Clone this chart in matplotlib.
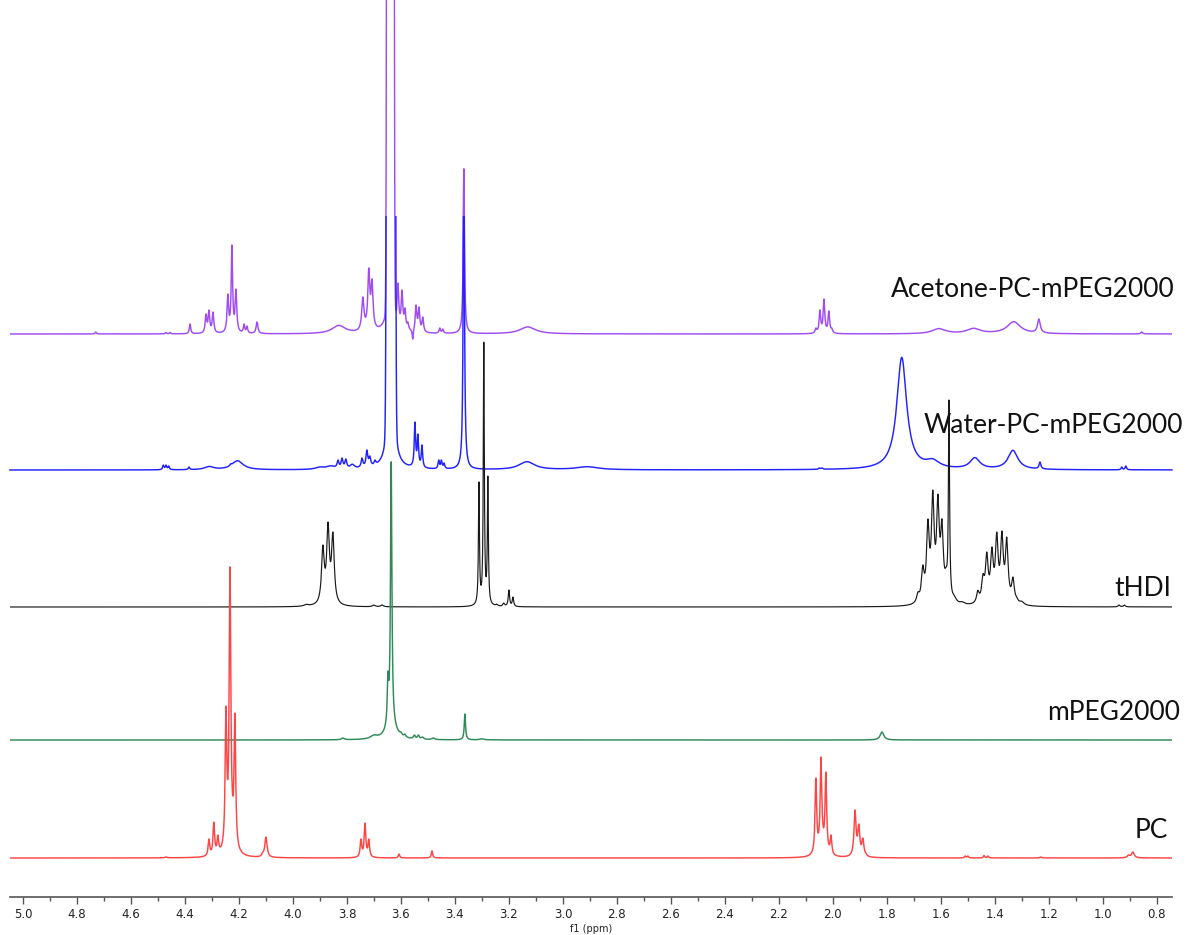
import numpy as np
import matplotlib
matplotlib.use("Agg")
import matplotlib.pyplot as plt
from matplotlib.patches import Rectangle
from matplotlib.ticker import MultipleLocator, FormatStrFormatter

# ---- peak tables ----
# shift (ppm), height above the spectrum's own baseline, half width (ppm)
acetone_shift = [4.73, 4.47, 4.455, 4.381, 4.322, 4.311, 4.296, 4.241, 4.226, 4.211,
                 4.181, 4.170, 4.133, 3.83, 3.81, 3.80, 3.741, 3.719, 3.707, 3.64,
                 3.611, 3.596, 3.585, 3.574, 3.556, 3.544, 3.533, 3.519, 3.456, 3.445,
                 3.367, 3.13, 2.063, 2.048, 2.033, 2.015, 2.004, 1.607, 1.478, 1.33,
                 1.237, 0.856]
acetone_height = [2, 1.5, 1.5, 10, 20, 24, 22, 40, 89, 45,
                  10, 8, 12, 8, 4, 4, 37, 66, 55, 40,
                  51, 44, 26, 12, -5, 29, 27, 17, 6, 5,
                  166, 7, 6, 24, 35, 23, 6, 5, 5, 12,
                  15, 2]
acetone_width = [0.003, 0.003, 0.003, 0.003, 0.0035, 0.0035, 0.0035, 0.0035, 0.003, 0.0035,
                 0.003, 0.003, 0.004, 0.03, 0.004, 0.004, 0.005, 0.0045, 0.0045, 0.015,
                 0.0035, 0.0035, 0.0035, 0.0035, 0.002, 0.0035, 0.0035, 0.0035, 0.003, 0.003,
                 0.0028, 0.035, 0.0035, 0.0035, 0.0035, 0.0035, 0.0035, 0.03, 0.03, 0.03,
                 0.006, 0.004]
acetone_peg = [3.639, 1.0e5, 0.0044]   # saturated PEG band: shift, height, sigma

water_shift = [4.48, 4.47, 4.46, 4.385, 4.31, 4.23, 4.215, 4.205, 3.90, 3.86,
               3.833, 3.818, 3.804, 3.78, 3.744, 3.726, 3.715, 3.696, 3.637, 3.548,
               3.537, 3.522, 3.46, 3.45, 3.44, 3.367, 3.133, 3.115, 2.91, 2.05,
               2.04, 1.745, 1.63, 1.474, 1.333, 1.233, 0.93, 0.915]
water_height = [5, 5, 4, 3, 3, 6, 4, 9, 2, 3,
                10, 12, 11, 4, 12, 20, 14, 10, 120, 48,
                36, 25, 10, 10, 7, 320, 8, 3, 3, 2,
                2, 112, 7, 11, 19, 8, 3, 4]
water_width = [0.003, 0.003, 0.003, 0.003, 0.02, 0.004, 0.004, 0.025, 0.02, 0.02,
               0.004, 0.004, 0.004, 0.01, 0.004, 0.004, 0.004, 0.004, 0.012, 0.003,
               0.003, 0.003, 0.003, 0.003, 0.003, 0.0028, 0.035, 0.005, 0.05, 0.004,
               0.004, 0.022, 0.03, 0.022, 0.022, 0.004, 0.003, 0.003]
water_peg = [3.637, 1.0e5, 0.0052]

thdi_shift = [3.95, 3.889, 3.870, 3.852, 3.70, 3.67, 3.311, 3.293, 3.278, 3.245,
              3.219, 3.200, 3.185, 1.700, 1.685, 1.667, 1.648, 1.630, 1.611, 1.596,
              1.581, 1.570, 1.55, 1.52, 1.470, 1.463, 1.444, 1.430, 1.411, 1.393,
              1.374, 1.356, 1.333, 1.319, 1.30, 0.94, 0.92]
thdi_height = [1.5, 62, 85, 75, 2, 2, 126, 267, 131, 3,
               4, 17, 10, 4, 15, 42, 88, 117, 113, 88,
               40, 207, 4, 2, 5, 15, 33, 55, 60, 75,
               76, 70, 30, 10, 3, 2, 2]
thdi_width = [0.01, 0.006, 0.006, 0.006, 0.006, 0.006, 0.0022, 0.0022, 0.0022, 0.004,
              0.004, 0.003, 0.003, 0.006, 0.006, 0.006, 0.006, 0.006, 0.006, 0.006,
              0.006, 0.0025, 0.01, 0.01, 0.006, 0.006, 0.006, 0.006, 0.006, 0.006,
              0.006, 0.006, 0.006, 0.006, 0.01, 0.004, 0.004]

mpeg_shift = [3.815, 3.70, 3.668, 3.660, 3.648, 3.636, 3.636, 3.60, 3.585, 3.55,
              3.535, 3.52, 3.48, 3.363, 3.30, 1.818]
mpeg_height = [2, 3, 6, 8, 68, 278, 15, 8, 6, 5,
               5, 3, 2, 26, 1, 8]
mpeg_width = [0.006, 0.015, 0.004, 0.004, 0.003, 0.003, 0.02, 0.005, 0.004, 0.004,
              0.004, 0.005, 0.006, 0.0028, 0.01, 0.008]

pc_shift = [4.47, 4.311, 4.293, 4.278, 4.248, 4.233, 4.215, 4.23, 4.112, 4.100,
            3.748, 3.733, 3.719, 3.607, 3.485, 2.063, 2.044, 2.026, 2.007, 2.04,
            1.918, 1.904, 1.889, 1.878, 1.51, 1.50, 1.44, 1.425, 1.23, 0.905, 0.889]
pc_height = [1, 19, 36, 23, 152, 292, 145, 12, 6, 21,
             19, 35, 19, 4, 7, 80, 101, 86, 23, 8,
             48, 34, 20, 5, 2, 2, 2.5, 2, 1, 3, 6]
pc_width = [0.005, 0.0035, 0.0035, 0.0035, 0.0035, 0.0035, 0.0035, 0.015, 0.004, 0.005,
            0.0035, 0.0035, 0.0035, 0.003, 0.003, 0.0035, 0.0035, 0.0035, 0.0035, 0.015,
            0.0045, 0.0045, 0.0045, 0.0045, 0.003, 0.003, 0.003, 0.003, 0.004, 0.006, 0.006]

names = ["Acetone-PC-mPEG2000", "Water-PC-mPEG2000", "tHDI", "mPEG2000", "PC"]

ppm = np.arange(0.70, 5.10, 0.0004)


def lorentz(x, x0, w):
    return 1.0 / (1.0 + ((x - x0) / w) ** 2)


def spectrum(shift, height, width, peg=None):
    shift = np.asarray(shift, float)
    height = np.asarray(height, float)
    width = np.asarray(width, float)
    narrow = width < 0.01

    def extra(x):
        # broad humps and the saturated band go in as read
        y = np.zeros_like(x)
        for s, h, w in zip(shift[~narrow], height[~narrow], width[~narrow]):
            y += h * lorentz(x, s, w)
        if peg is not None:
            y += peg[1] * np.exp(-0.5 * ((x - peg[0]) / peg[2]) ** 2)
        return y

    # solve line amplitudes so the summed curve hits the read peak heights
    s, w = shift[narrow], width[narrow]
    M = lorentz(s[:, None], s[None, :], w[None, :])
    amp = np.linalg.solve(M, height[narrow] - extra(s))
    amp = np.where(height[narrow] > 0, np.maximum(amp, 0), amp)
    y = extra(ppm)
    for s0, a, w0 in zip(s, amp, w):
        y += a * lorentz(ppm, s0, w0)
    return y


spectra = [
    spectrum(acetone_shift, acetone_height, acetone_width, acetone_peg),
    spectrum(water_shift, water_height, water_width, water_peg),
    spectrum(thdi_shift, thdi_height, thdi_width),
    spectrum(mpeg_shift, mpeg_height, mpeg_width),
    spectrum(pc_shift, pc_height, pc_width),
]

# ---- layout (1 y unit = 1 pixel) ----
W, H = 1187, 935
fig = plt.figure(figsize=(W / 100, H / 100), dpi=100)
ax = fig.add_axes([10 / W, 38 / H, 1162 / W, 897 / H])
ax.set_xlim(5.048, 0.744)
ax.set_ylim(0, 897)

offsets = [563, 427, 290, 157, 39]
colors = ["#a04cf2", "#2222ff", "#1a1a1a", "#2e8b57", "#ff4444"]
widths = [1.05, 1.05, 0.85, 1.05, 1.05]

for i, (y, off, c, lw) in enumerate(zip(spectra, offsets, colors, widths)):
    line, = ax.plot(ppm, y + off, color=c, lw=lw, zorder=2 + i)
    if i == 1:
        # the water spectrum is cut off at a fixed height in the original
        clip = Rectangle((0.5, -50), 5.0, 681 + 50, transform=ax.transData)
        line.set_clip_path(clip)

# labels right aligned at the right edge
label_pos = [(1175, 297), (1183, 433), (1171, 596), (1180, 720), (1168, 838)]
for name, (px, py) in zip(names, label_pos):
    fig.text(px / W, 1 - py / H, name, ha="right", va="baseline",
             fontsize=19, family=["Lato", "DejaVu Sans"], color="#111111")

for side in ["left", "right", "top"]:
    ax.spines[side].set_visible(False)
ax.spines["bottom"].set_color("#555555")
ax.spines["bottom"].set_linewidth(1.2)
ax.set_yticks([])
ax.xaxis.set_major_locator(MultipleLocator(0.2))
ax.xaxis.set_minor_locator(MultipleLocator(0.1))
ax.xaxis.set_major_formatter(FormatStrFormatter("%.1f"))
ax.tick_params(axis="x", which="major", direction="out", length=5, width=1,
               color="#555555", labelsize=8.5, labelcolor="#222222", pad=3)
ax.tick_params(axis="x", which="minor", direction="out", length=3, width=1,
               color="#555555")
ax.set_xlabel("f1 (ppm)", fontsize=7, color="#222222", labelpad=2)

fig.savefig("out.png", dpi=100)
